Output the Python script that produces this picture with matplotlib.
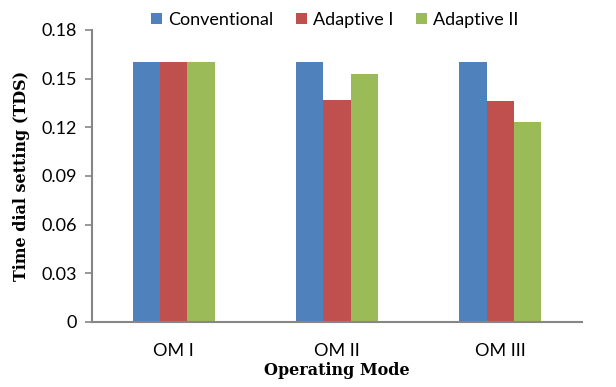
import matplotlib
matplotlib.use("Agg")
import matplotlib.pyplot as plt
import numpy as np
from matplotlib.patches import Patch

categories = ["OM I", "OM II", "OM III"]
series_names = ["Conventional", "Adaptive I", "Adaptive II"]
conventional = [0.16, 0.16, 0.16]
adaptive1 = [0.16, 0.137, 0.136]
adaptive2 = [0.16, 0.153, 0.123]
colors = ["#4F81BD", "#C0504D", "#9BBB59"]
yticks = [0, 0.03, 0.06, 0.09, 0.12, 0.15, 0.18]
ytick_labels = ["0", "0.03", "0.06", "0.09", "0.12", "0.15", "0.18"]

plt.rcParams['font.family'] = ['Lato', 'DejaVu Sans']

fig = plt.figure(figsize=(6.16, 3.87), dpi=100)
ax = fig.add_axes([92/616, 65/387, 490/616, 292/387])

x = np.arange(len(categories))
w = 0.168
for i, (vals, c) in enumerate(zip([conventional, adaptive1, adaptive2], colors)):
    ax.bar(x + (i - 1) * w, vals, width=w, color=c, linewidth=0)

ax.set_xlim(-0.5, 2.5)
ax.set_ylim(0, 0.18)
ax.set_yticks(yticks)
ax.set_yticklabels(ytick_labels, fontsize=13)
ax.set_xticks(x)
ax.set_xticklabels(categories, fontsize=13)
ax.tick_params(axis='x', length=0, pad=15)
ax.tick_params(axis='y', length=5, width=1.2, color='#868686', pad=6, direction='out')
for s in ['top', 'right']:
    ax.spines[s].set_visible(False)
for s in ['left', 'bottom']:
    ax.spines[s].set_color('#868686')
    ax.spines[s].set_linewidth(1.5)

ax.set_ylabel("Time dial setting (TDS)", family='DejaVu Serif', fontweight='bold', fontsize=11.5, labelpad=8)
ax.set_xlabel("Operating Mode", family='DejaVu Serif', fontweight='bold', fontsize=11.5, labelpad=2)

handles = [Patch(facecolor=c, edgecolor='none') for c in colors]
fig.legend(handles, series_names, loc='center', bbox_to_anchor=(335/616, 1 - 20/387),
           ncol=3, frameon=False, fontsize=13, handlelength=0.6, handleheight=0.6,
           handletextpad=0.35, columnspacing=1.25)

fig.savefig("out.png", dpi=100)
